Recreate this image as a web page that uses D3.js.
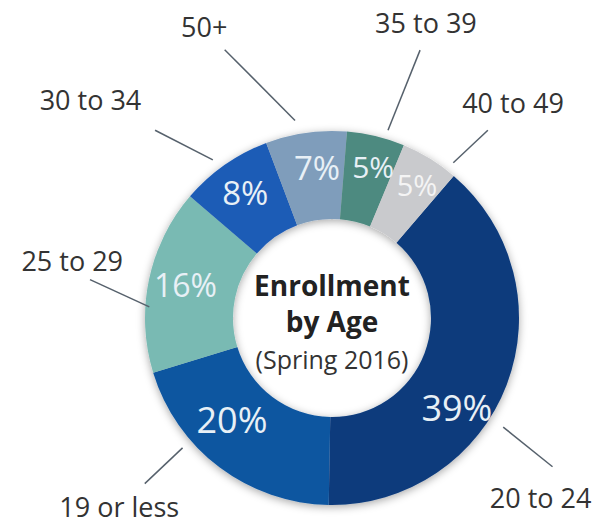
<!DOCTYPE html>
<svg width="596" height="528"></svg>
<style>
  body { margin: 0; background: #fff; }
  svg { display: block; font-family: "Open Sans", sans-serif; }
</style>
<script src="https://d3js.org/d3.v7.min.js"></script>
<script>

// data, clockwise starting from the big slice
var groups = ["20 to 24", "19 or less", "25 to 29", "30 to 34", "50+", "35 to 39", "40 to 49"];
var shares = [39, 20, 16, 8, 7, 5, 5];
var colors = ["#0a3a7c", "#0f56a0", "#79bab3", "#1e5cb6", "#7f9dbb", "#4e8a80", "#c9cacd"];

var titleLines = ["Enrollment", "by Age"];
var subtitle = "(Spring 2016)";

// label layout, polar (degrees clockwise from top, radius)
var lineFrom = [[122.5, 203], [229, 198], [273.5, 183], [323, 198], [349.4, 201], [16.6, 196], [38, 197]];
var lineTo   = [[124, 266], [228.5, 250], [279, 245], [316.7, 258], [338.2, 289], [18.2, 282], [39.7, 244]];
var namePos  = [[130.9, 276], [228.3, 285], [282.4, 266], [312, 325], [336.3, 318], [17.7, 309], [40.1, 281]];
var pctPos   = [[125.8, 154], [224.4, 143], [282.4, 150], [325.2, 152], [354.3, 151], [15.3, 156], [32.8, 157]];
var pctSize  = [36, 36, 32, 33, 33, 30, 29];

var svg = d3.select("svg"),
    cx = 332, cy = 318,
    outerR = 187, innerR = 99,
    g = svg.append("g").attr("transform", "translate(" + cx + "," + cy + ")");

var rad = Math.PI / 180;
function polar(p) { return d3.pointRadial(p[0] * rad, p[1]); }

// soft shadow round the ring
var defs = svg.append("defs");
defs.append("filter")
    .attr("id", "shadow")
    .attr("x", "-20%").attr("y", "-20%")
    .attr("width", "140%").attr("height", "140%")
  .append("feDropShadow")
    .attr("dx", 0).attr("dy", 2)
    .attr("stdDeviation", 4)
    .attr("flood-color", "#000")
    .attr("flood-opacity", 0.35);

var pie = d3.pie()
    .sort(null)
    .value(function(d) { return d; })
    .startAngle(40.6 * rad)
    .endAngle(400.6 * rad);

var arc = d3.arc()
    .innerRadius(innerR)
    .outerRadius(outerR);

var arcs = pie(shares);

g.append("g")
    .attr("filter", "url(#shadow)")
  .selectAll("path")
  .data(arcs)
  .enter().append("path")
    .attr("d", arc)
    .attr("fill", function(d, i) { return colors[i]; });

// percent labels in the ring
g.selectAll(".pct")
  .data(arcs)
  .enter().append("text")
    .attr("class", "pct")
    .attr("transform", function(d, i) { return "translate(" + polar(pctPos[i]) + ")"; })
    .attr("text-anchor", "middle")
    .attr("dy", "0.36em")
    .style("font-size", function(d, i) { return pctSize[i] + "px"; })
    .style("fill", function(d, i) { return i === 6 ? "#f4f4f4" : "#e8f0f6"; })
    .text(function(d) { return d.data + "%"; });

// leader lines
g.selectAll(".leader")
  .data(arcs)
  .enter().append("line")
    .attr("class", "leader")
    .attr("x1", function(d, i) { return polar(lineFrom[i])[0]; })
    .attr("y1", function(d, i) { return polar(lineFrom[i])[1]; })
    .attr("x2", function(d, i) { return polar(lineTo[i])[0]; })
    .attr("y2", function(d, i) { return polar(lineTo[i])[1]; })
    .style("stroke", "#56616c")
    .style("stroke-width", 1.5);

// group names
g.selectAll(".name")
  .data(arcs)
  .enter().append("text")
    .attr("class", "name")
    .attr("transform", function(d, i) { return "translate(" + polar(namePos[i]) + ")"; })
    .attr("text-anchor", "middle")
    .attr("dy", "0.36em")
    .style("font-size", "27px")
    .style("fill", "#333")
    .text(function(d, i) { return groups[i]; });

// title in the hole
g.append("text")
    .attr("text-anchor", "middle")
    .attr("y", -22)
    .style("font-size", "28px")
    .style("font-weight", "bold")
    .style("fill", "#222")
    .text(titleLines[0]);

g.append("text")
    .attr("text-anchor", "middle")
    .attr("y", 14)
    .style("font-size", "28px")
    .style("font-weight", "bold")
    .style("fill", "#222")
    .text(titleLines[1]);

g.append("text")
    .attr("text-anchor", "middle")
    .attr("y", 51)
    .style("font-size", "25px")
    .style("fill", "#333")
    .text(subtitle);

</script>
